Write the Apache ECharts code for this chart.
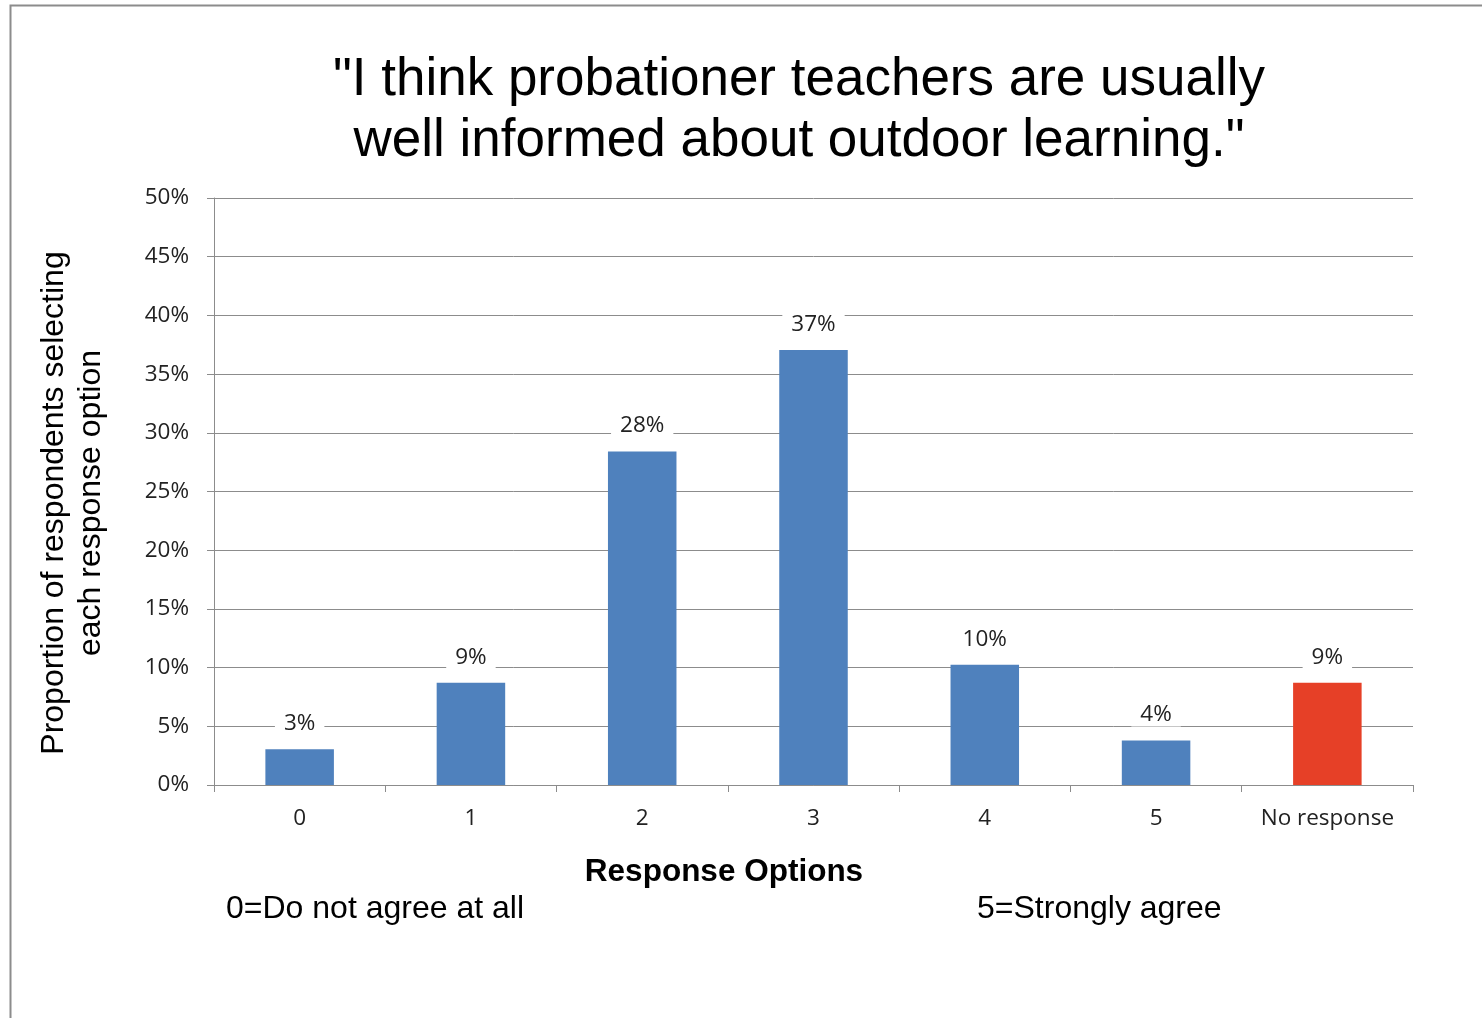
<!DOCTYPE html>
<html><head><meta charset="utf-8">
<script src="https://cdn.jsdelivr.net/npm/echarts@6/dist/echarts.min.js"></script>
<style>html,body{margin:0;padding:0;background:#fff}#c{width:1482px;height:1018px}</style>
</head><body><div id="c"></div>
<script>
const categories = ['0','1','2','3','4','5','No response'];
const values = [3.04, 8.71, 28.4, 37.05, 10.25, 3.8, 8.71];
const labels = ['3%','9%','28%','37%','10%','4%','9%'];
const barColors = ['#4F81BD','#4F81BD','#4F81BD','#4F81BD','#4F81BD','#4F81BD','#E64027'];
const titleText = '"I think probationer teachers are usually\nwell informed about outdoor learning."';
const yName = 'Proportion of respondents selecting\neach response option';
const xName = 'Response Options';
const leftNote = '0=Do not agree at all';
const rightNote = '5=Strongly agree';

const chart = echarts.init(document.getElementById('c'));
chart.setOption({
  backgroundColor: '#fff',
  animation: false,
  title: {
    text: titleText, left: 794, top: 45, textAlign: 'center',
    textStyle: {fontFamily: 'Liberation Sans', fontSize: 53, fontWeight: 'normal', color: '#000', lineHeight: 61}
  },
  graphic: [
    {type: 'rect', shape: {x: 10.5, y: 5.5, width: 1500, height: 1100}, style: {fill: 'none', stroke: '#8c8c8c', lineWidth: 2}, silent: true},
    {type: 'text', x: 226, y: 909, style: {text: leftNote, font: '32px "Liberation Sans"', fill: '#000', verticalAlign: 'middle'}},
    {type: 'text', x: 977, y: 909, style: {text: rightNote, font: '32px "Liberation Sans"', fill: '#000', verticalAlign: 'middle'}},
    {type: 'text', x: 724, y: 872, style: {text: xName, font: 'bold 31.5px "Liberation Sans"', fill: '#000', align: 'center', verticalAlign: 'middle'}},
    {type: 'text', x: 73, y: 503, rotation: Math.PI/2, style: {text: yName, font: '32px "Liberation Sans"', fill: '#000', align: 'center', verticalAlign: 'middle', lineHeight: 37}}
  ],
  grid: {left: 214, right: 69, top: 198, bottom: 233, containLabel: false},
  xAxis: {
    type: 'category', data: categories,
    axisLine: {lineStyle: {color: '#8c8c8c', width: 1}},
    axisTick: {show: true, interval: 0, length: 7, lineStyle: {color: '#8c8c8c'}},
    axisLabel: {interval: 0, fontFamily: 'Open Sans', fontSize: 22.5, color: '#222', margin: 22}
  },
  yAxis: {
    type: 'value', min: 0, max: 50, interval: 5,
    axisLine: {show: true, lineStyle: {color: '#8c8c8c'}},
    axisTick: {show: true, length: 7, inside: false, lineStyle: {color: '#8c8c8c'}},
    splitLine: {lineStyle: {color: '#8c8c8c', width: 1}},
    axisLabel: {formatter: '{value}%', fontFamily: 'Open Sans', fontSize: 22.5, color: '#222', margin: 25}
  },
  series: [{
    type: 'bar', barWidth: '40%',
    data: values.map((v, i) => ({value: v, itemStyle: {color: barColors[i]}})),
    label: {
      show: true, position: 'top', distance: 14,
      formatter: p => labels[p.dataIndex],
      fontFamily: 'Open Sans', fontSize: 22.5, color: '#222',
      backgroundColor: '#fff', padding: [0, 9]
    }
  }]
});
</script></body></html>
